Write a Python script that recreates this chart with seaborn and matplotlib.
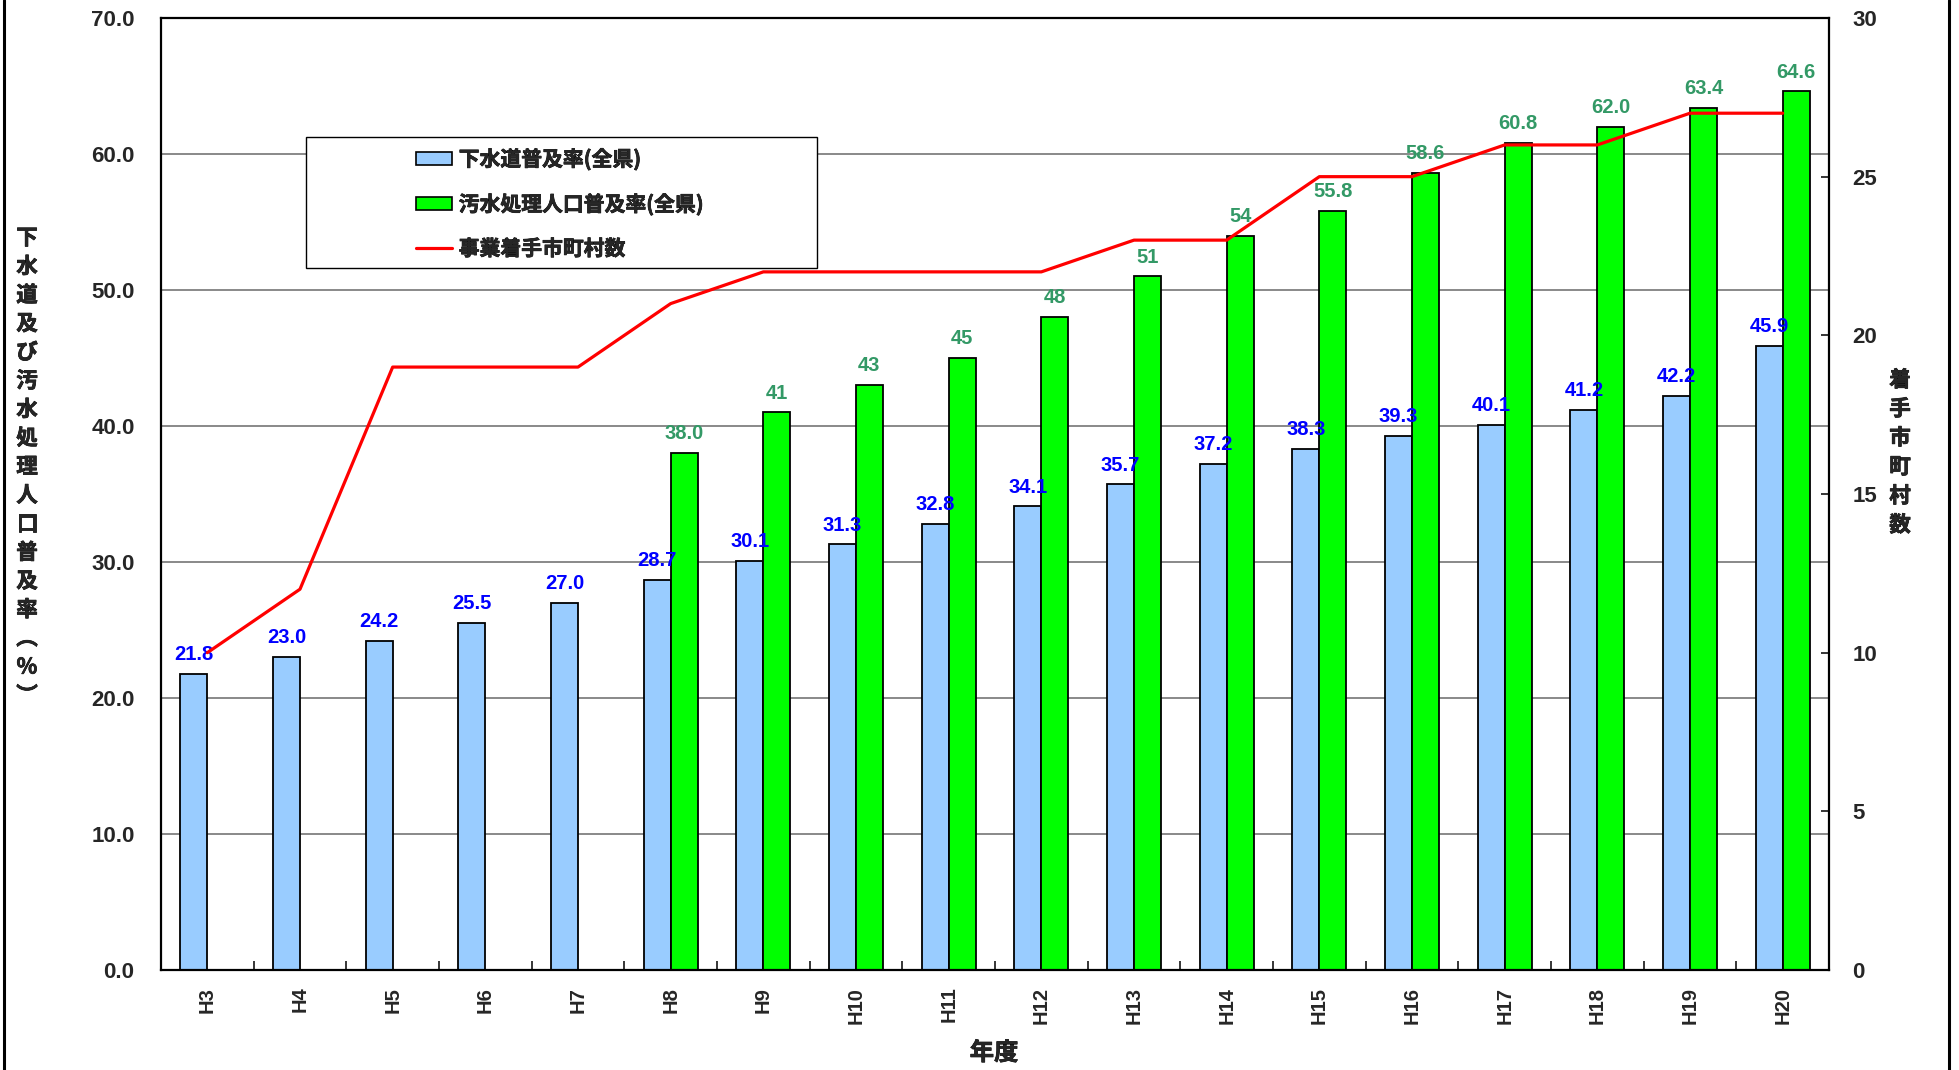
import numpy as np
import pandas as pd
import matplotlib
matplotlib.use("Agg")
import matplotlib.pyplot as plt
import matplotlib.patheffects as pe
from matplotlib.patches import Patch, Rectangle
from matplotlib.lines import Line2D
from matplotlib.font_manager import FontProperties
import seaborn as sns

# ---- data -------------------------------------------------------------
years = ["H3", "H4", "H5", "H6", "H7", "H8", "H9", "H10", "H11", "H12",
         "H13", "H14", "H15", "H16", "H17", "H18", "H19", "H20"]

sewer_rate = [21.8, 23.0, 24.2, 25.5, 27.0, 28.7, 30.1, 31.3, 32.8, 34.1,
              35.7, 37.2, 38.3, 39.3, 40.1, 41.2, 42.2, 45.9]
sewer_labels = ["21.8", "23.0", "24.2", "25.5", "27.0", "28.7", "30.1", "31.3",
                "32.8", "34.1", "35.7", "37.2", "38.3", "39.3", "40.1", "41.2",
                "42.2", "45.9"]

treat_rate = [np.nan, np.nan, np.nan, np.nan, np.nan, 38.0, 41, 43, 45, 48,
              51, 54, 55.8, 58.6, 60.8, 62.0, 63.4, 64.6]
treat_labels = ["", "", "", "", "", "38.0", "41", "43", "45", "48",
                "51", "54", "55.8", "58.6", "60.8", "62.0", "63.4", "64.6"]

towns = [10, 12, 19, 19, 19, 21, 22, 22, 22, 22, 23, 23, 25, 25, 26, 26, 27, 27]

series_names = ["下水道普及率(全県)", "汚水処理人口普及率(全県)"]
line_name = "事業着手市町村数"

left_ticks = [0, 10, 20, 30, 40, 50, 60, 70]
right_ticks = [0, 5, 10, 15, 20, 25, 30]

# ---- style ------------------------------------------------------------
sns.set_theme(style="white")
plt.rcParams["font.family"] = ["Liberation Sans", "Noto Sans CJK JP", "DejaVu Sans"]
plt.rcParams["font.weight"] = "bold"

BLUE = "#99CCFF"
GREEN = "#00FF00"
RED = "#FF0000"
BLUE_TXT = "#0000FF"
GREEN_TXT = "#339966"
GRID = "#808080"
JP = ["Noto Sans CJK JP", "DejaVu Sans"]
# slightly heavier strokes for the Japanese captions
HEAVY = [pe.withStroke(linewidth=0.5, foreground="black")]

W, H = 1959, 1070
fig = plt.figure(figsize=(W / 100, H / 100), dpi=100)
ax = fig.add_axes([161 / W, 1 - 970 / H, (1829 - 161) / W, (970 - 18) / H])

df = pd.DataFrame({
    "year": years * 2,
    "rate": sewer_rate + treat_rate,
    "series": [series_names[0]] * len(years) + [series_names[1]] * len(years),
})

sns.barplot(data=df, x="year", y="rate", hue="series", hue_order=series_names,
            palette=[BLUE, GREEN], width=0.58, edgecolor="black", linewidth=1.3,
            errorbar=None, legend=False, saturation=1, ax=ax)

ax.set_xlim(-0.5, len(years) - 0.5)
ax.set_ylim(0, 70)
ax.set_yticks(left_ticks)
ax.set_yticklabels([f"{v:.1f}" for v in left_ticks])
ax.set_axisbelow(True)
ax.yaxis.grid(True, color=GRID, linewidth=1.3)
ax.xaxis.grid(False)
ax.set_xlabel("")
ax.set_ylabel("")
for s in ax.spines.values():
    s.set_color("black")
    s.set_linewidth(1.6)

ax.tick_params(axis="y", which="major", length=0, pad=19, labelsize=16)
ax.set_xticks(np.arange(len(years)))
ax.set_xticklabels(years, rotation=90)
ax.tick_params(axis="x", which="major", length=0, pad=12, labelsize=14.5)
ax.set_xticks(np.arange(0.5, len(years) - 1, 1), minor=True)
ax.tick_params(axis="x", which="minor", direction="in", length=6.5, width=1.1,
               color="black", bottom=True)
for lab in ax.get_xticklabels() + ax.get_yticklabels():
    lab.set_fontweight("bold")

# value labels above bars
def label_bars(container, labels, color):
    texts = []
    for patch in container:
        idx = int(round(patch.get_x() + patch.get_width() / 2))
        texts.append(labels[idx])
    ax.bar_label(container, labels=texts, padding=7, color=color,
                 fontsize=14.5, fontweight="bold")

label_bars(ax.containers[0], sewer_labels, BLUE_TXT)
label_bars(ax.containers[1], treat_labels, GREEN_TXT)

# municipality count on the secondary axis
ax2 = ax.twinx()
sns.lineplot(x=np.arange(len(years)), y=towns, ax=ax2, color=RED,
             linewidth=2.3, legend=False)
ax2.set_ylim(0, 30)
ax2.set_yticks(right_ticks)
ax2.set_yticklabels([str(v) for v in right_ticks])
ax2.tick_params(axis="y", direction="in", length=6, width=1.1, color="black",
                pad=17, labelsize=16, right=True, left=False)
for lab in ax2.get_yticklabels():
    lab.set_fontweight("bold")
ax2.grid(False)
for s in ax2.spines.values():
    s.set_visible(False)
ax2.set_xlim(ax.get_xlim())

# legend box
fig.patches.append(Rectangle((306 / W, 1 - 268 / H), 511 / W, 131 / H,
                             transform=fig.transFigure, facecolor="white",
                             edgecolor="black", linewidth=1.0, zorder=3))
handles = [
    Patch(facecolor=BLUE, edgecolor="black", linewidth=1.2),
    Patch(facecolor=GREEN, edgecolor="black", linewidth=1.2),
    Line2D([0], [0], color=RED, linewidth=2.3),
]
leg = fig.legend(handles, series_names + [line_name], loc="upper left",
                 bbox_to_anchor=(416 / W, 1 - 148 / H), frameon=False,
                 prop=FontProperties(family=JP, weight="bold", size=15),
                 handlelength=1.75, handleheight=0.6, handletextpad=0.3,
                 labelspacing=1.1, borderpad=0, borderaxespad=0)
leg.set_zorder(4)
for t in leg.get_texts():
    t.set_path_effects(HEAVY)

# vertical axis titles, one character per line
left_title = "下水道及び汚水処理人口普及率︵%︶"
y0, pitch = 238, 28.6
for i, ch in enumerate(left_title):
    fig.text(27 / W, 1 - (y0 + i * pitch) / H, ch, family=JP, weight="bold",
             fontsize=15.5, ha="center", va="center", path_effects=HEAVY)

right_title = "着手市町村数"
y0, pitch = 380, 29
for i, ch in enumerate(right_title):
    fig.text(1900 / W, 1 - (y0 + i * pitch) / H, ch, family=JP, weight="bold",
             fontsize=15.5, ha="center", va="center", path_effects=HEAVY)

fig.text(994 / W, 1 - 1053 / H, "年度", family=JP, weight="bold", fontsize=17.5,
         ha="center", va="center", path_effects=HEAVY)

# outer frame lines
for xpx in (4, 1949):
    fig.add_artist(Line2D([xpx / W, xpx / W], [0, 1], transform=fig.transFigure,
                          color="black", linewidth=2.2))

fig.savefig("out.png", dpi=100)
